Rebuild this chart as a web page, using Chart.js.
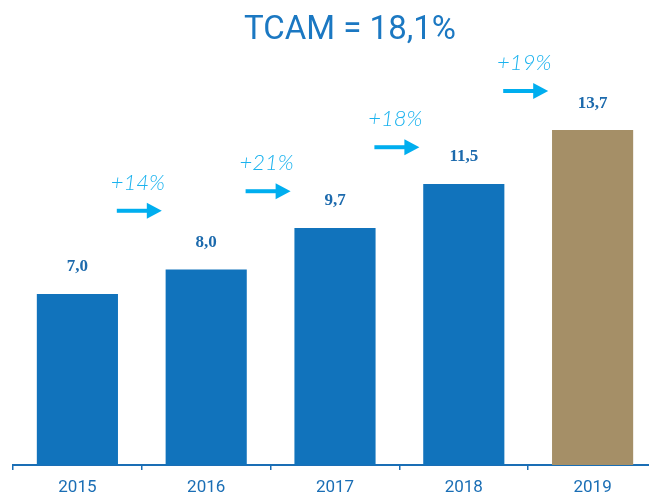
<!DOCTYPE html>
<html><head><meta charset="utf-8">
<script src="https://cdn.jsdelivr.net/npm/chart.js@4/dist/chart.umd.min.js"></script>
<style>html,body{margin:0;padding:0;overflow:hidden;background:#fff;width:649px;height:495px}#w{width:657px;height:495px}</style>
</head><body><div id="w"><canvas id="c" width="657" height="495"></canvas></div>
<script>
const years = ['2015','2016','2017','2018','2019'];
const values = [7.0, 8.0, 9.7, 11.5, 13.7];
const valueLabels = ['7,0','8,0','9,7','11,5','13,7'];
const growthLabels = ['+14%','+21%','+18%','+19%'];
const titleText = 'TCAM = 18,1%';
// annotation arrow heights expressed in value units
const arrowLevels = [10.4, 11.2, 13.0, 15.3];

const BLUE = '#1173BC', GOLD = '#A58F67', CYAN = '#1AB2EE', TXT = '#1A6EB5';

const overlay = {
  id: 'overlay',
  afterDatasetsDraw(chart) {
    const ctx = chart.ctx, x = chart.scales.x, y = chart.scales.y;
    ctx.save();
    // title
    ctx.fillStyle = '#1B78C2';
    ctx.font = '33px Roboto';
    ctx.textAlign = 'center'; ctx.textBaseline = 'middle';
    ctx.fillText(titleText, 350, 31);
    // value labels
    ctx.font = 'bold 17px "Liberation Serif"';
    ctx.fillStyle = '#1C6AAD';
    const meta = chart.getDatasetMeta(0);
    meta.data.forEach((bar, i) => {
      ctx.fillText(valueLabels[i], bar.x, bar.y - 27);
    });
    // growth arrows
    for (let i = 0; i < growthLabels.length; i++) {
      const cx = (x.getPixelForValue(i) + x.getPixelForValue(i + 1)) / 2;
      const cy = y.getPixelForValue(arrowLevels[i]);
      const x0 = cx - 25, x1 = cx + 5, x2 = cx + 20;
      ctx.fillStyle = '#00AEEF';
      ctx.fillRect(x0, cy - 2, x1 - x0 + 1, 4);
      ctx.beginPath();
      ctx.moveTo(x1, cy - 8); ctx.lineTo(x2, cy); ctx.lineTo(x1, cy + 8); ctx.closePath();
      ctx.fill();
      ctx.font = 'italic 300 22px Lato';
      ctx.fillStyle = CYAN;
      ctx.fillText(growthLabels[i], cx - 4, cy - 28);
    }
    ctx.restore();
  }
};

new Chart(document.getElementById('c'), {
  type: 'bar',
  data: {
    labels: years,
    datasets: [{
      data: values,
      backgroundColor: values.map((v, i) => i === values.length - 1 ? GOLD : BLUE),
      barPercentage: 0.63,
      categoryPercentage: 1.0
    }]
  },
  options: {
    responsive: false,
    animation: false,
    devicePixelRatio: 1,
    layout: { padding: { left: 13, right: 0, top: 25, bottom: 0 } },
    plugins: { legend: { display: false }, tooltip: { enabled: false } },
    scales: {
      x: {
        afterFit: (s) => { s.height = 30; },
        grid: { display: true, drawOnChartArea: false, tickLength: 5, color: '#1A6EB5', lineWidth: 1.5 },
        border: { display: true, color: '#1A6EB5', width: 2 },
        ticks: { color: TXT, font: { family: 'Roboto', size: 17, lineHeight: 1 }, padding: 9 }
      },
      y: { display: false, min: 0, max: 18 }
    }
  },
  plugins: [overlay]
});
</script></body></html>
